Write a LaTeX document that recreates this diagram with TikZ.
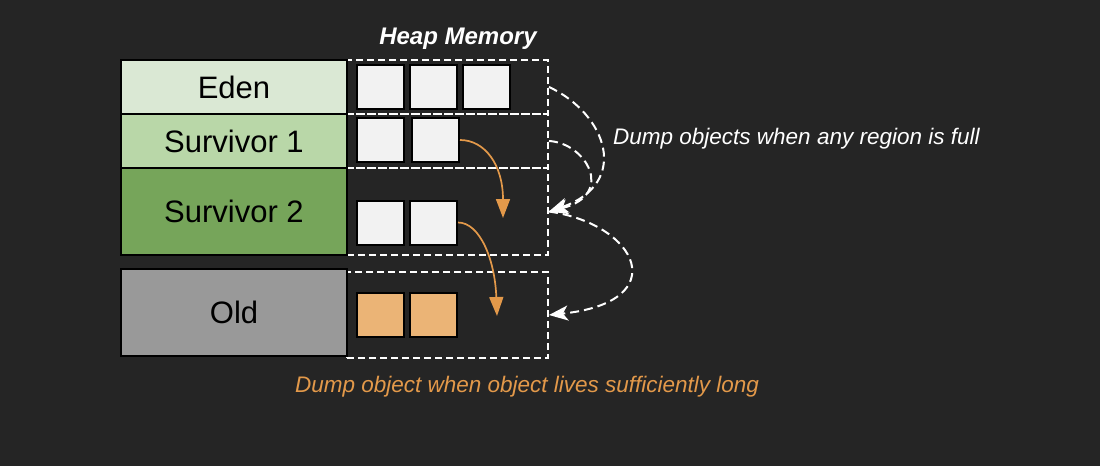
\documentclass[tikz,border=0pt]{standalone}
\usepackage{fontspec}
\setmainfont{Liberation Sans}
\usepackage{tikz}
\usetikzlibrary{positioning, arrows.meta}
\definecolor{bgdark}{HTML}{252525}
\definecolor{edenfill}{HTML}{DAE8D4}
\definecolor{survafill}{HTML}{B9D7A8}
\definecolor{survbfill}{HTML}{76A55A}
\definecolor{oldfill}{HTML}{999999}
\definecolor{objfill}{HTML}{F2F2F2}
\definecolor{agedfill}{HTML}{EBB476}
\definecolor{promote}{HTML}{E3994A}
\tikzstyle{region} = [draw=white, dash pattern=on 7pt off 4pt, line width=2pt, minimum width=201pt, inner sep=0pt]
\tikzstyle{genbox} = [draw=black, line width=2pt, minimum width=226pt, inner sep=0pt, font=\fontsize{31}{37}\selectfont]
\tikzstyle{obj}    = [draw=black, fill=objfill, line width=2pt, minimum width=47pt, minimum height=44pt, inner sep=0pt]
\tikzstyle{dump}   = [draw=white, dash pattern=on 9pt off 5pt, line width=2pt, -{Stealth[length=19pt,width=15pt,inset=5pt]}]
\tikzstyle{age}    = [draw=promote, line width=1.7pt, -{Triangle[length=19pt,width=14pt]}]
\tikzstyle{note}   = [inner sep=0pt, font=\fontsize{22.5}{27}\selectfont\itshape]

\begin{document}
\begin{tikzpicture}[x=1pt, y=-1pt, node distance=4pt]
	\fill [bgdark] (0,0) rectangle (1100,466);
	\useasboundingbox (0,0) rectangle (1100,466);

	% dashed regions of the heap
	\node [region, minimum height=54pt] (edenR) at (447.5,87) {};
	\node [region, minimum height=54pt] (survaR) at (447.5,141) {};
	\node [region, minimum height=87pt] (survbR) at (447.5,211.5) {};
	\node [region, minimum height=86pt] (oldR) at (447.5,315) {};

	% generations
	\node [genbox, fill=edenfill, minimum height=54pt] (eden) at (234,87) {Eden};
	\node [genbox, fill=survafill, minimum height=54pt] (surva) at (234,141) {Survivor 1};
	\node [genbox, fill=survbfill, minimum height=87pt] (survb) at (234,211.5) {Survivor 2};
	\node [genbox, fill=oldfill, minimum height=87pt] (old) at (234,312.5) {Old};

	% objects
	\node [obj] (e1) at (380.5,87) {};
	\node [obj, right=of e1] (e2) {};
	\node [obj, right=of e2] (e3) {};
	\node [obj] (sa1) at (380.5,140) {};
	\node [obj, right=6pt of sa1] (sa2) {};
	\node [obj] (sb1) at (380.5,222.5) {};
	\node [obj, right=of sb1] (sb2) {};
	\node [obj, fill=agedfill] (o1) at (380.5,315) {};
	\node [obj, fill=agedfill, right=of o1] (o2) {};

	\coordinate (agea) at (503,218);
	\coordinate (ageb) at (497,316);

	\node [font=\fontsize{24}{29}\selectfont\bfseries\itshape, text=white, inner sep=0pt] (heap) at (458,39) {Heap Memory};
	\node [note, text=white, anchor=west] (fullnote) at (613,139) {Dump objects when any region is full};
	\node [note, text=promote] (agenote) at (527,387) {Dump object when object lives sufficiently long};

	\draw [dump] (edenR.east) .. controls +(58,27) and +(82,-28) .. (survbR.east);
	\draw [dump] (survaR.east) .. controls +(37,2) and +(67,-17) .. (survbR.east);
	\draw [dump] (survbR.east) .. controls +(90,13) and +(125,-13) .. (oldR.east);
	\draw [age] (sa2.east) .. controls +(25,0) and +(0,-53) .. (agea);
	\draw [age] (sb2.east) .. controls +(22,0) and +(-2,-56) .. (ageb);
\end{tikzpicture}
\end{document}
